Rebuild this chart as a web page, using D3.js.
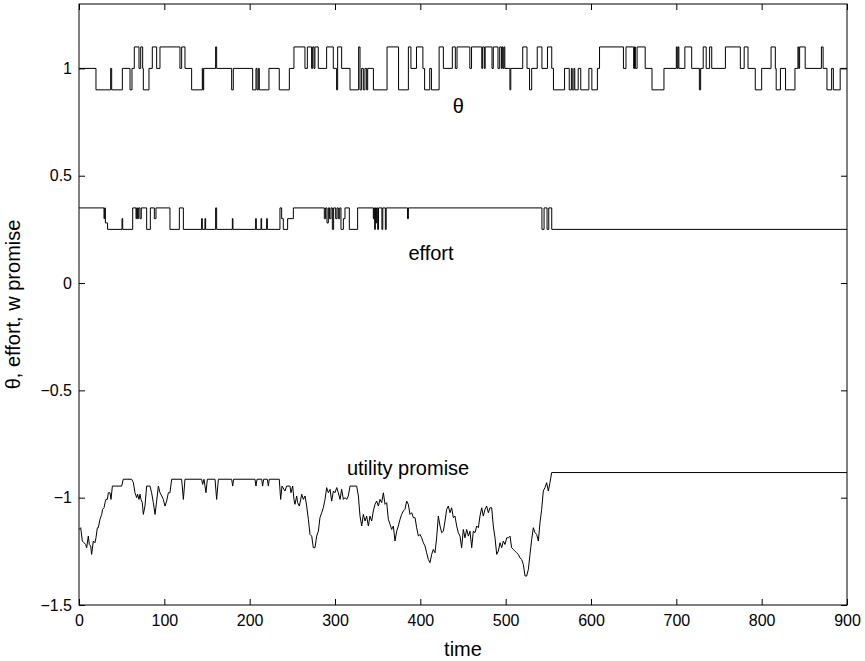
<!DOCTYPE html>
<html>
<head>
<meta charset="utf-8">
<script src="https://cdn.jsdelivr.net/npm/d3@7"></script>
<style>
  html, body { margin: 0; padding: 0; background: #fff; }
  svg text { font-family: "Liberation Sans", Arial, Helvetica, sans-serif; fill: #000; }
</style>
</head>
<body>
<svg id="chart" width="865" height="661"></svg>
<script>
// axis ticks
const timeTicks = [0, 100, 200, 300, 400, 500, 600, 700, 800, 900];
const valueTicks = [-1.5, -1, -0.5, 0, 0.5, 1];

// theta: [time where level starts, level]
const thetaSteps = [
  [0, 1.0], [19.9, 0.9], [37.1, 1.0], [38.3, 0.9], [50.8, 1.0], [59.8, 0.9], [62.1, 1.0],
  [64.8, 1.1], [70.3, 1.0], [72.3, 1.1], [74.6, 1.0], [75.4, 0.9], [82.0, 1.0], [85.9, 1.1],
  [91.0, 1.0], [94.9, 1.1], [118.3, 1.0], [120.3, 1.1], [124.2, 1.0], [132.0, 0.9],
  [144.5, 1.0], [145.3, 0.9], [146.1, 1.0], [160.1, 1.1], [161.3, 1.0], [178.9, 0.9],
  [180.8, 1.0], [203.5, 0.9], [207.4, 1.0], [208.6, 0.9], [210.1, 1.0], [211.3, 0.9],
  [222.6, 1.0], [234.7, 0.9], [246.5, 1.0], [251.9, 1.1], [264.8, 1.0], [267.6, 1.1],
  [272.6, 1.0], [273.8, 1.1], [275.4, 1.0], [276.5, 1.1], [280.4, 1.0], [290.2, 1.1],
  [298.0, 1.0], [301.9, 0.9], [303.1, 1.1], [307.8, 1.0], [317.6, 0.9], [327.7, 1.1],
  [329.3, 0.9], [331.2, 1.0], [333.2, 0.9], [335.1, 1.0], [337.1, 0.9], [338.3, 1.0],
  [345, 0.9], [361, 1.1], [374.5, 0.9], [386, 1.1], [389, 1.0], [395.5, 1.1], [403, 1.0],
  [405, 0.9], [411, 1.0], [413, 0.9], [422, 1.1], [427, 1.0], [437.5, 1.1], [441, 1.0],
  [443, 1.1], [458, 1.0], [460, 1.1], [472, 1.0], [473, 1.1], [475, 1.0], [476, 1.1],
  [484, 1.0], [485.5, 1.1], [491, 1.0], [493, 1.1], [495, 1.0], [496, 1.1], [497, 1.0],
  [498, 1.1], [499, 1.0], [505, 0.9], [506, 1.0], [520, 1.1], [525, 1.0], [528, 0.9],
  [530.5, 1.0], [537, 1.1], [542.5, 1.0], [549, 1.1], [554, 1.0], [556, 0.9], [569, 1.0],
  [574.5, 0.9], [577, 1.0], [578, 0.9], [580, 1.0], [581, 0.9], [585, 1.0], [588, 0.9],
  [597.5, 1.0], [601, 0.9], [607.5, 1.0], [610, 1.1], [638, 1.0], [641, 1.1], [650, 1.0],
  [651, 1.1], [652, 1.0], [654, 1.1], [663.5, 1.0], [671.5, 0.9], [685.5, 1.0], [700, 1.1],
  [701, 1.0], [702, 1.1], [703, 1.0], [710, 1.1], [718, 1.0], [727, 0.9], [728.5, 1.0],
  [731.5, 1.1], [735, 1.0], [739, 1.1], [741.5, 1.0], [757.5, 1.1], [775, 1.0], [779.5, 1.1],
  [784, 1.0], [792.5, 0.9], [800, 1.0], [811, 1.1], [816, 1.0], [817, 0.9], [822, 1.0],
  [828, 0.9], [839, 1.0], [842.5, 1.1], [843.5, 1.0], [844.5, 1.1], [851, 1.0], [870, 1.1],
  [872, 1.0], [876.5, 0.9], [882, 1.0], [884, 0.9], [892, 1.0], [900, 1.0]
];

// effort: [time where level starts, level]
const effortSteps = [
  [0, 0.35], [29.3, 0.3], [30.1, 0.35], [30.9, 0.28], [33.5, 0.25], [50.4, 0.3], [51.2, 0.25],
  [62.9, 0.35], [66.8, 0.3], [67.6, 0.35], [68.7, 0.3], [69.9, 0.35], [71.5, 0.3], [73, 0.35],
  [79.3, 0.25], [83.6, 0.35], [88.3, 0.3], [90.2, 0.35], [106.6, 0.25], [117.6, 0.35],
  [122.3, 0.25], [143.7, 0.3], [144.5, 0.25], [147.6, 0.3], [148.4, 0.25], [160.1, 0.35],
  [161.3, 0.25], [179.7, 0.3], [180.4, 0.25], [207, 0.3], [207.8, 0.25], [213.3, 0.3],
  [214, 0.25], [219.9, 0.3], [220.7, 0.25], [235.5, 0.35], [237.5, 0.3], [239.4, 0.25],
  [244.5, 0.3], [251.2, 0.35], [287.5, 0.3], [289, 0.35], [290.6, 0.28], [292.2, 0.35],
  [293.7, 0.3], [295.3, 0.35], [296.9, 0.25], [298.4, 0.35], [300.8, 0.3], [302.3, 0.35],
  [303.9, 0.3], [305.5, 0.35], [307, 0.25], [309.8, 0.3], [311.7, 0.35], [316.8, 0.25],
  [326.5, 0.35], [344.9, 0.3], [345.7, 0.35], [346.5, 0.25], [347.3, 0.35], [348, 0.28],
  [348.8, 0.35], [350, 0.25], [351, 0.35], [355, 0.25], [356, 0.35], [359, 0.25], [360, 0.35],
  [385, 0.3], [386, 0.35], [542.5, 0.25], [545, 0.35], [548.5, 0.25], [550.5, 0.35],
  [554, 0.25], [900, 0.25]
];

// utility promise: [time, value]
const utilityPoints = [
  [0, -1.148], [2, -1.140], [3.9, -1.202], [5.9, -1.210], [7.8, -1.218], [9, -1.233],
  [10.9, -1.179], [12.1, -1.218], [13.7, -1.225], [14.8, -1.264], [16.8, -1.202], [18.7, -1.210],
  [19.9, -1.187], [21.5, -1.140], [22.6, -1.140], [24.6, -1.101], [26.6, -1.078], [27.7, -1.054],
  [29.3, -1.047], [30.5, -1.023], [31.6, -1.008], [33.2, -1.008], [34.4, -0.977], [36.3, -0.977],
  [37.5, -1.008], [39.1, -0.946], [50, -0.946], [51.9, -0.914], [61.7, -0.914], [63.7, -0.930],
  [65.6, -0.977], [67.6, -1.0], [68.7, -0.984], [70.3, -1.008], [71.5, -0.984], [72.6, -1.008],
  [74.2, -1.023], [75.4, -1.078], [77.3, -1.039], [79.3, -0.946], [83.2, -0.946], [85.1, -0.977],
  [87.1, -1.023], [89.1, -1.078], [91, -1.016], [93, -0.946], [94.9, -0.977], [96.9, -0.992],
  [98.8, -1.008], [100.8, -1.039], [102.7, -1.016], [104.7, -0.977], [106.6, -0.977],
  [108.6, -0.914], [120.3, -0.914], [122.3, -1.008], [124.2, -0.914], [143.7, -0.914],
  [144.9, -0.938], [146.5, -0.914], [148.8, -0.977], [150.4, -0.914], [159.4, -0.914],
  [161.3, -1.008], [163.3, -0.914], [178.9, -0.914], [180.1, -0.946], [181.2, -0.914],
  [206.2, -0.914], [207.4, -0.946], [208.6, -0.914], [214.1, -0.914], [215.2, -0.946],
  [216.4, -0.914], [220.7, -0.914], [221.9, -0.946], [223, -0.914], [234.7, -0.914],
  [236.3, -1.008], [237.9, -0.946], [241.4, -0.969], [243.3, -0.946], [247.2, -0.946],
  [248.4, -0.977], [250.4, -0.946], [251.9, -1.008], [253.1, -1.031], [255.1, -0.992],
  [256.2, -1.023], [258.2, -1.039], [261, -0.984], [262.9, -1.008], [264.9, -0.992],
  [266.8, -1.039], [268.8, -1.101], [270.7, -1.171], [272.7, -1.179], [274.6, -1.233],
  [276.6, -1.233], [278.5, -1.179], [280.5, -1.156], [282.4, -1.093], [284.4, -1.070],
  [286.3, -1.047], [288.3, -1.008], [290.2, -0.953], [292.2, -0.977], [294.2, -0.961],
  [296.1, -1.016], [298.1, -0.969], [300, -0.977], [302, -0.953], [303.9, -0.977],
  [305.9, -1.008], [307.8, -0.961], [309.8, -1.008], [311.7, -1.0], [313.7, -1.008],
  [315.6, -0.992], [317.6, -0.946], [325.4, -0.946], [327.4, -0.992], [329.3, -1.086],
  [331.3, -1.132], [333.2, -1.078], [335.2, -1.109], [337.1, -1.086], [339.1, -1.132],
  [341, -1.086], [343, -1.109], [344.9, -1.062], [346.9, -1.031], [348.8, -1.016],
  [350.8, -1.039], [352.7, -1.008], [354.7, -1.023], [356.7, -0.977], [358.6, -1.031],
  [360.6, -1.023], [362.5, -1.101], [364.5, -1.124], [366.4, -1.148], [368.4, -1.132],
  [370.3, -1.202], [372.3, -1.156], [374.2, -1.132], [376.2, -1.101], [378.1, -1.078],
  [380.1, -1.062], [382, -1.054], [384, -1.016], [385.9, -1.031], [387.9, -1.078],
  [389.9, -1.070], [391.8, -1.093], [393.8, -1.093], [395.7, -1.140], [397.7, -1.179],
  [399.6, -1.171], [401.6, -1.187], [403.5, -1.210], [405.5, -1.225], [407.4, -1.257],
  [409.4, -1.288], [411.3, -1.303], [413.3, -1.264], [415.2, -1.241], [417.2, -1.257],
  [419.1, -1.187], [421.1, -1.086], [423.1, -1.132], [425, -1.163], [427, -1.156],
  [428.9, -1.109], [430.9, -1.054], [432.8, -1.039], [434.8, -1.070], [436.7, -1.047],
  [438.7, -1.093], [440.6, -1.086], [442.6, -1.132], [444.5, -1.163], [446.5, -1.179],
  [448.4, -1.233], [450.4, -1.148], [452.3, -1.187], [454.3, -1.148], [456.3, -1.179],
  [458.2, -1.156], [460.2, -1.233], [462.1, -1.156], [464.1, -1.163], [466, -1.132],
  [468, -1.140], [469.9, -1.086], [471.9, -1.047], [473.8, -1.086], [475.8, -1.054],
  [477.7, -1.039], [479.7, -1.070], [481.6, -1.047], [483.6, -1.047], [485.5, -1.132],
  [487.5, -1.187], [489.5, -1.264], [491.4, -1.249], [493.4, -1.210], [495.3, -1.233],
  [497.3, -1.202], [499.2, -1.218], [501.2, -1.187], [503.1, -1.187], [505.1, -1.179],
  [507, -1.233], [509, -1.241], [510.9, -1.249], [512.9, -1.257], [514.8, -1.264],
  [516.8, -1.280], [518.7, -1.288], [520.7, -1.311], [522.7, -1.365], [524.6, -1.365],
  [526.6, -1.334], [528.5, -1.264], [530.5, -1.194], [532.4, -1.140], [534.4, -1.163],
  [536.3, -1.171], [538.3, -1.202], [540.2, -1.117], [542.2, -1.054], [544.1, -0.969],
  [546.1, -0.953], [548, -0.930], [550, -0.969], [551.9, -0.930], [553.9, -0.883],
  [900, -0.883]
];

// text labels placed in data coordinates (left edge, baseline)
const seriesLabels = [
  { text: 'θ', t: 438, v: 0.79 },
  { text: 'effort', t: 386, v: 0.105 },
  { text: 'utility promise', t: 314, v: -0.893 }
];

const margin = { top: 4, right: 18, bottom: 56, left: 79 };
const width = 865, height = 661;

const svg = d3.select('svg#chart');

const x = d3.scaleLinear()
    .domain([0, 900])
    .range([margin.left, width - margin.right]);

const y = d3.scaleLinear()
    .domain([-1.5, 1.3])
    .range([height - margin.bottom, margin.top]);

const fmt = v => (v < 0 ? '\u2212' : '') + Math.abs(v);
const tickLen = 6;
const tickFont = 16;
const labelFont = 20;

// inward ticks on all four sides, MATLAB style
const xBottom = d3.axisBottom(x).tickValues(timeTicks).tickSize(-tickLen).tickPadding(10).tickFormat(fmt);
const xTop = d3.axisTop(x).tickValues(timeTicks).tickSize(-tickLen).tickFormat('');
const yLeft = d3.axisLeft(y).tickValues(valueTicks).tickSize(-tickLen).tickPadding(7).tickFormat(fmt);
const yRight = d3.axisRight(y).tickValues(valueTicks).tickSize(-tickLen).tickFormat('');

const axisStyle = g => {
  g.select('.domain').remove();
  g.selectAll('.tick line').attr('stroke', '#000').attr('stroke-width', 1);
  g.selectAll('.tick text')
      .attr('font-size', tickFont)
      .attr('font-family', '"Liberation Sans", Arial, sans-serif')
      .attr('fill', '#000');
};

svg.append('g').attr('transform', `translate(0,${y(-1.5)})`).call(xBottom).call(axisStyle);
svg.append('g').attr('transform', `translate(0,${y(1.3)})`).call(xTop).call(axisStyle);
svg.append('g').attr('transform', `translate(${x(0)},0)`).call(yLeft).call(axisStyle);
svg.append('g').attr('transform', `translate(${x(900)},0)`).call(yRight).call(axisStyle);

// series
const stepLine = d3.line()
    .x(d => x(d[0]))
    .y(d => y(d[1]))
    .curve(d3.curveStepAfter);

const plainLine = d3.line()
    .x(d => x(d[0]))
    .y(d => y(d[1]));

const plot = svg.append('g');

plot.append('path')
    .datum(thetaSteps)
    .attr('fill', 'none')
    .attr('stroke', '#000')
    .attr('stroke-width', 1)
    .attr('d', stepLine);

plot.append('path')
    .datum(effortSteps)
    .attr('fill', 'none')
    .attr('stroke', '#000')
    .attr('stroke-width', 1)
    .attr('d', stepLine);

plot.append('path')
    .datum(utilityPoints)
    .attr('fill', 'none')
    .attr('stroke', '#000')
    .attr('stroke-width', 1)
    .attr('d', plainLine);

// box
svg.append('rect')
    .attr('x', x(0))
    .attr('y', y(1.3))
    .attr('width', x(900) - x(0))
    .attr('height', y(-1.5) - y(1.3))
    .attr('fill', 'none')
    .attr('stroke', '#000')
    .attr('stroke-width', 1);

// series labels
svg.append('g').selectAll('text')
    .data(seriesLabels)
    .enter().append('text')
    .attr('x', d => x(d.t))
    .attr('y', d => y(d.v))
    .attr('font-size', labelFont)
    .text(d => d.text);

// axis labels
svg.append('text')
    .attr('x', (x(0) + x(900)) / 2)
    .attr('y', 656)
    .attr('text-anchor', 'middle')
    .attr('font-size', labelFont)
    .text('time');

svg.append('text')
    .attr('transform', `translate(20,${(y(-1.5) + y(1.3)) / 2}) rotate(-90)`)
    .attr('text-anchor', 'middle')
    .attr('font-size', labelFont)
    .text('θ, effort, w promise');
</script>
</body>
</html>
